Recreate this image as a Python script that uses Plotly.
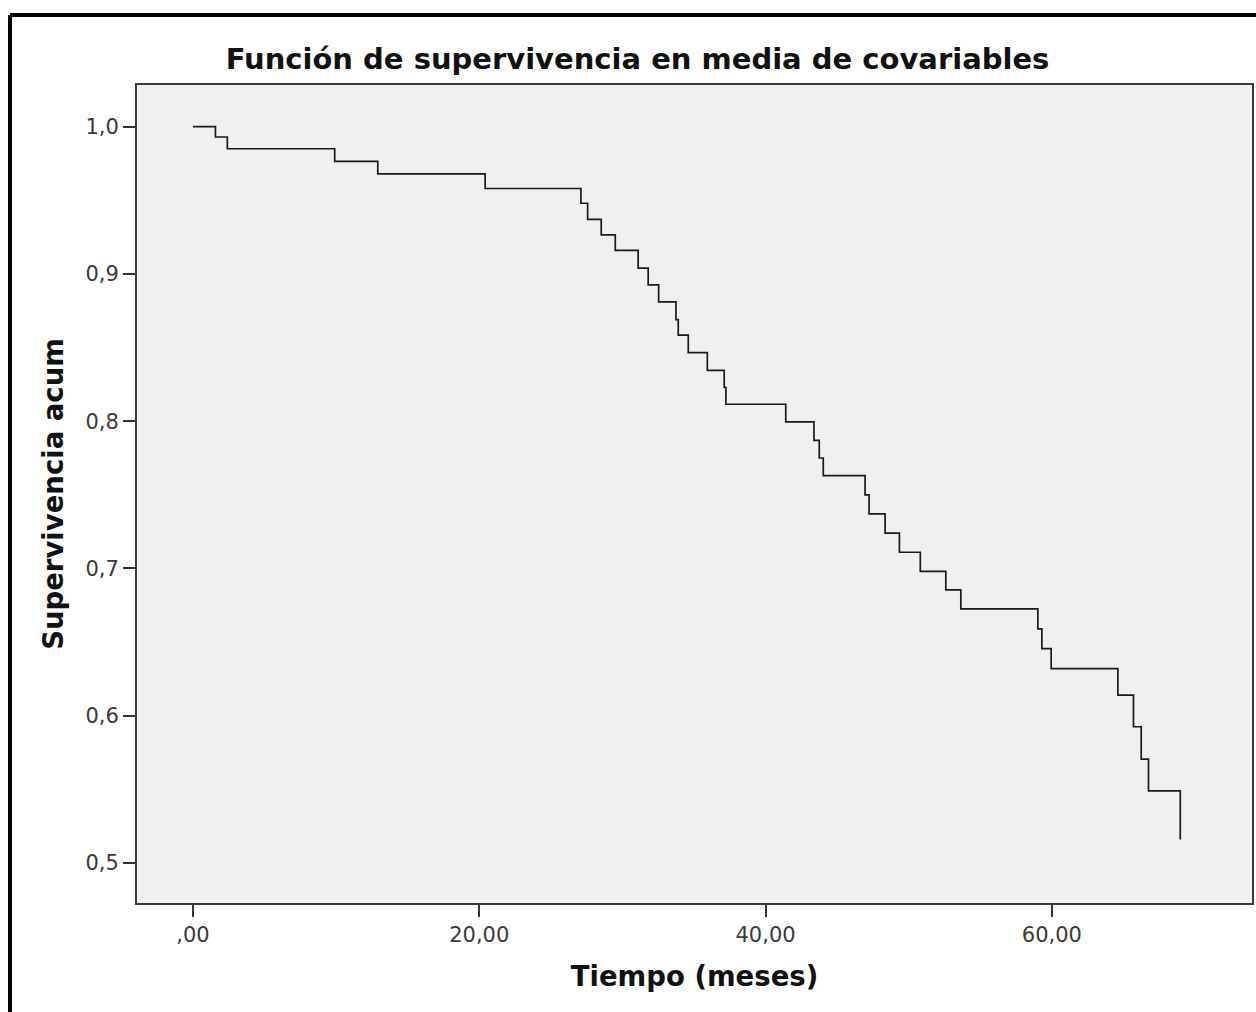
import plotly.graph_objects as go

# Step points of the survival function (time in months, cumulative survival)
tiempo = [0.00, 1.57, 2.40, 9.90, 12.91, 20.41, 27.10, 27.57, 28.52, 29.50,
          31.10, 31.80, 32.53, 33.74, 33.90, 34.60, 35.93, 37.11, 37.23, 41.41,
          43.38, 43.75, 44.03, 46.95, 47.23, 48.35, 49.35, 50.81, 52.59, 53.64,
          59.02, 59.30, 59.95, 64.61, 65.70, 66.24, 66.75, 68.97]
supervivencia = [1.000, 0.993, 0.985, 0.9765, 0.968, 0.958, 0.948, 0.937, 0.9265, 0.916,
                 0.904, 0.8925, 0.881, 0.869, 0.8585, 0.8465, 0.8345, 0.823, 0.8115, 0.7995,
                 0.787, 0.775, 0.763, 0.750, 0.737, 0.724, 0.711, 0.698, 0.6855, 0.6725,
                 0.659, 0.6455, 0.632, 0.614, 0.5925, 0.5705, 0.549, 0.516]

x_tickvals = [0, 20, 40, 60]
x_ticktext = [",00", "20,00", "40,00", "60,00"]
y_tickvals = [0.5, 0.6, 0.7, 0.8, 0.9, 1.0]
y_ticktext = ["0,5", "0,6", "0,7", "0,8", "0,9", "1,0"]

W, H = 1256, 1012
L, R, T = 137, 4, 85
B = H - 903

fig = go.Figure()
fig.add_trace(go.Scatter(
    x=tiempo, y=supervivencia, mode="lines", line_shape="hv",
    line=dict(color="#1a1a1a", width=1.7), showlegend=False, hoverinfo="x+y"))

font_family = "DejaVu Sans, Verdana, sans-serif"

fig.update_layout(
    width=W, height=H,
    margin=dict(l=L, r=R, t=T, b=B, autoexpand=False),
    paper_bgcolor="white", plot_bgcolor="#f0f0f0",
    font=dict(family=font_family, color="#333333"),
    title=dict(text="<b>Función de supervivencia en media de covariables</b>",
               font=dict(size=29, color="#111111", family=font_family),
               x=637.5 / W, xref="container", xanchor="center",
               y=1 - 59 / H, yref="container", yanchor="middle"),
    showlegend=False,
)

fig.update_xaxes(
    range=[-3.91, 73.98], tickvals=x_tickvals, ticktext=x_ticktext,
    ticks="outside", ticklen=12, tickwidth=2, tickcolor="#333333",
    showline=True, linewidth=2, linecolor="#3a3a3a", mirror=True,
    showgrid=False, zeroline=False,
    tickfont=dict(size=21, color="#3a3a3a"),
    title=dict(text="<b>Tiempo (meses)</b>", font=dict(size=27.5, color="#111111"), standoff=21),
)
fig.update_yaxes(
    range=[0.4728, 1.0283], tickvals=y_tickvals, ticktext=y_ticktext,
    ticks="outside", ticklen=12, tickwidth=2, tickcolor="#333333",
    showline=True, linewidth=2, linecolor="#3a3a3a", mirror=True,
    showgrid=False, zeroline=False,
    tickfont=dict(size=21, color="#3a3a3a"),
    title=dict(text="<b>Supervivencia acum</b>", font=dict(size=27.5, color="#111111"), standoff=14),
)

# outer black frame (left and top visible; right/bottom beyond the image)
pw, ph = W - L - R, H - T - B
fx0 = (10 - L) / pw
fy1 = (H - B - 15) / ph
fig.add_shape(type="line", xref="paper", yref="paper", x0=fx0, x1=fx0, y0=fy1, y1=-0.3,
              line=dict(color="black", width=4))
fig.add_shape(type="line", xref="paper", yref="paper", x0=fx0, x1=1.2, y0=fy1, y1=fy1,
              line=dict(color="black", width=4))

fig.write_html(
    "out.html",
    config={"displayModeBar": False},
    post_script="document.body.style.margin='0';"
                "document.documentElement.style.overflow='hidden';"
                "document.body.style.overflow='hidden';",
)
